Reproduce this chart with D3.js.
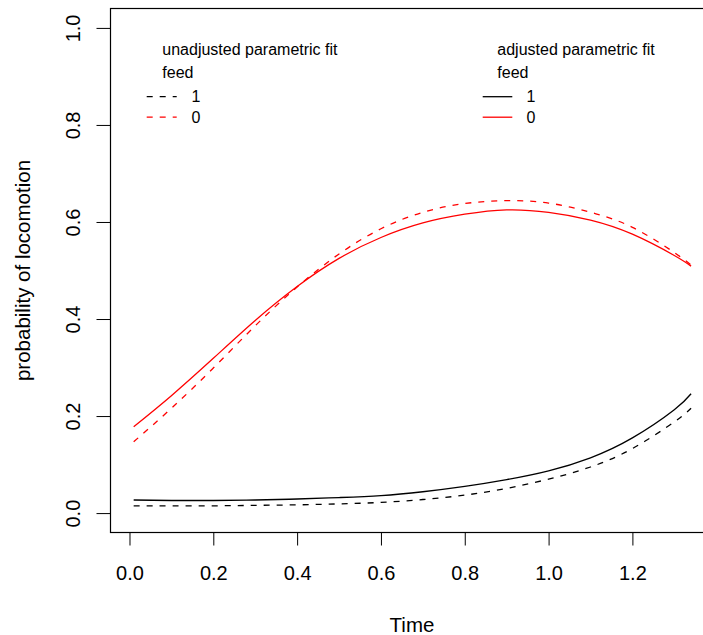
<!DOCTYPE html>
<html>
<head>
<meta charset="utf-8">
<script src="https://cdn.jsdelivr.net/npm/d3@7"></script>
<style>
  html, body { margin: 0; padding: 0; background: #fff; }
  svg { display: block; font-family: "Liberation Sans", Arial, Helvetica, sans-serif; }
</style>
</head>
<body>
<svg id="chart" width="703" height="635"></svg>
<script>
// ---- data ----
const times = [0.01, 0.1, 0.2, 0.3, 0.4, 0.5, 0.6, 0.7, 0.8, 0.9, 1.0, 1.1, 1.2, 1.3, 1.34];
const adjFeed0 =   [0.178, 0.242, 0.319, 0.397, 0.467, 0.525, 0.568, 0.598, 0.616, 0.625, 0.620, 0.604, 0.575, 0.531, 0.509];
const unadjFeed0 = [0.147, 0.216, 0.299, 0.386, 0.466, 0.534, 0.586, 0.620, 0.638, 0.644, 0.639, 0.620, 0.589, 0.537, 0.511];
const adjFeed1 =   [0.027, 0.026, 0.026, 0.027, 0.029, 0.032, 0.036, 0.044, 0.055, 0.069, 0.087, 0.114, 0.155, 0.213, 0.246];
const unadjFeed1 = [0.015, 0.015, 0.015, 0.016, 0.017, 0.019, 0.022, 0.028, 0.037, 0.051, 0.070, 0.095, 0.133, 0.188, 0.216];
const xTicks = [0, 0.2, 0.4, 0.6, 0.8, 1.0, 1.2];
const yTicks = [0, 0.2, 0.4, 0.6, 0.8, 1.0];
const xLabel = "Time";
const yLabel = "probability of locomotion";
const legendUnadjTitle = "unadjusted parametric fit";
const legendAdjTitle = "adjusted parametric fit";
const legendSubTitle = "feed";
const legendLevels = ["1", "0"];
const legendColors = ["#000000", "#ff0000"];

// ---- layout ----
const svg = d3.select("#chart");
svg.append("rect").attr("width", 703).attr("height", 635).attr("fill", "#fff");

const x = d3.scaleLinear().domain([-0.0453, 1.3947]).range([110.5, 714]);
const y = d3.scaleLinear().domain([-0.04, 1.04]).range([532.5, 8.5]);

const fmt = d3.format(".1f");

// x axis
const gx = svg.append("g").attr("transform", "translate(0,532.5)")
  .call(d3.axisBottom(x).tickValues(xTicks).tickSize(13).tickSizeOuter(0).tickFormat(fmt));
gx.select(".domain").remove();
gx.selectAll(".tick line").attr("stroke", "#000").attr("stroke-width", 1);
gx.selectAll(".tick text").attr("y", 47.5).attr("dy", null)
  .attr("font-size", 20).attr("fill", "#000").attr("font-family", "Liberation Sans, Arial, sans-serif");

// y axis
const gy = svg.append("g").attr("transform", "translate(110.5,0)")
  .call(d3.axisLeft(y).tickValues(yTicks).tickSize(14).tickSizeOuter(0).tickFormat(fmt));
gy.select(".domain").remove();
gy.selectAll(".tick line").attr("stroke", "#000").attr("stroke-width", 1);
gy.selectAll(".tick text")
  .attr("x", 0).attr("y", 0).attr("dy", null)
  .attr("text-anchor", "middle")
  .attr("transform", "translate(-30.5,0) rotate(-90)")
  .attr("font-size", 20).attr("fill", "#000").attr("font-family", "Liberation Sans, Arial, sans-serif");

// plot box
svg.append("rect")
  .attr("x", x.range()[0]).attr("y", y.range()[1])
  .attr("width", x.range()[1] - x.range()[0])
  .attr("height", y.range()[0] - y.range()[1])
  .attr("fill", "none").attr("stroke", "#000").attr("stroke-width", 1.2);

// axis titles
svg.append("text").attr("x", 412).attr("y", 632).attr("text-anchor", "middle")
  .attr("font-size", 20.5).attr("fill", "#000").text(xLabel);
svg.append("text").attr("transform", "translate(29.5,270.5) rotate(-90)")
  .attr("text-anchor", "middle").attr("font-size", 20.5).attr("fill", "#000").text(yLabel);

// curves
const line = d3.line().x(d => x(d[0])).y(d => y(d[1])).curve(d3.curveNatural);
const series = [
  { vals: unadjFeed1, color: legendColors[0], dash: "6,7" },
  { vals: unadjFeed0, color: legendColors[1], dash: "6,7" },
  { vals: adjFeed1, color: legendColors[0], dash: null },
  { vals: adjFeed0, color: legendColors[1], dash: null }
];
series.forEach(s => {
  svg.append("path")
    .datum(times.map((t, i) => [t, s.vals[i]]))
    .attr("d", line)
    .attr("fill", "none")
    .attr("stroke", s.color)
    .attr("stroke-width", 1.3)
    .attr("stroke-dasharray", s.dash);
});

// legends
function legend(x0, lineX1, lineX2, labelX, title, dash) {
  const g = svg.append("g").attr("font-size", 16).attr("fill", "#000");
  g.append("text").attr("x", x0).attr("y", 54.5).text(title);
  g.append("text").attr("x", x0).attr("y", 78.3).text(legendSubTitle);
  const rowsY = [96.7, 117.2];
  legendLevels.forEach((lv, i) => {
    g.append("line").attr("x1", lineX1).attr("x2", lineX2)
      .attr("y1", rowsY[i]).attr("y2", rowsY[i])
      .attr("stroke", legendColors[i]).attr("stroke-width", 1.3)
      .attr("stroke-dasharray", dash);
    g.append("text").attr("x", labelX).attr("y", rowsY[i] + 5.6).text(lv);
  });
}
legend(162.3, 146.7, 176.7, 191.5, legendUnadjTitle, "6,7");
legend(497.3, 482.7, 512.3, 526.5, legendAdjTitle, null);
</script>
</body>
</html>
